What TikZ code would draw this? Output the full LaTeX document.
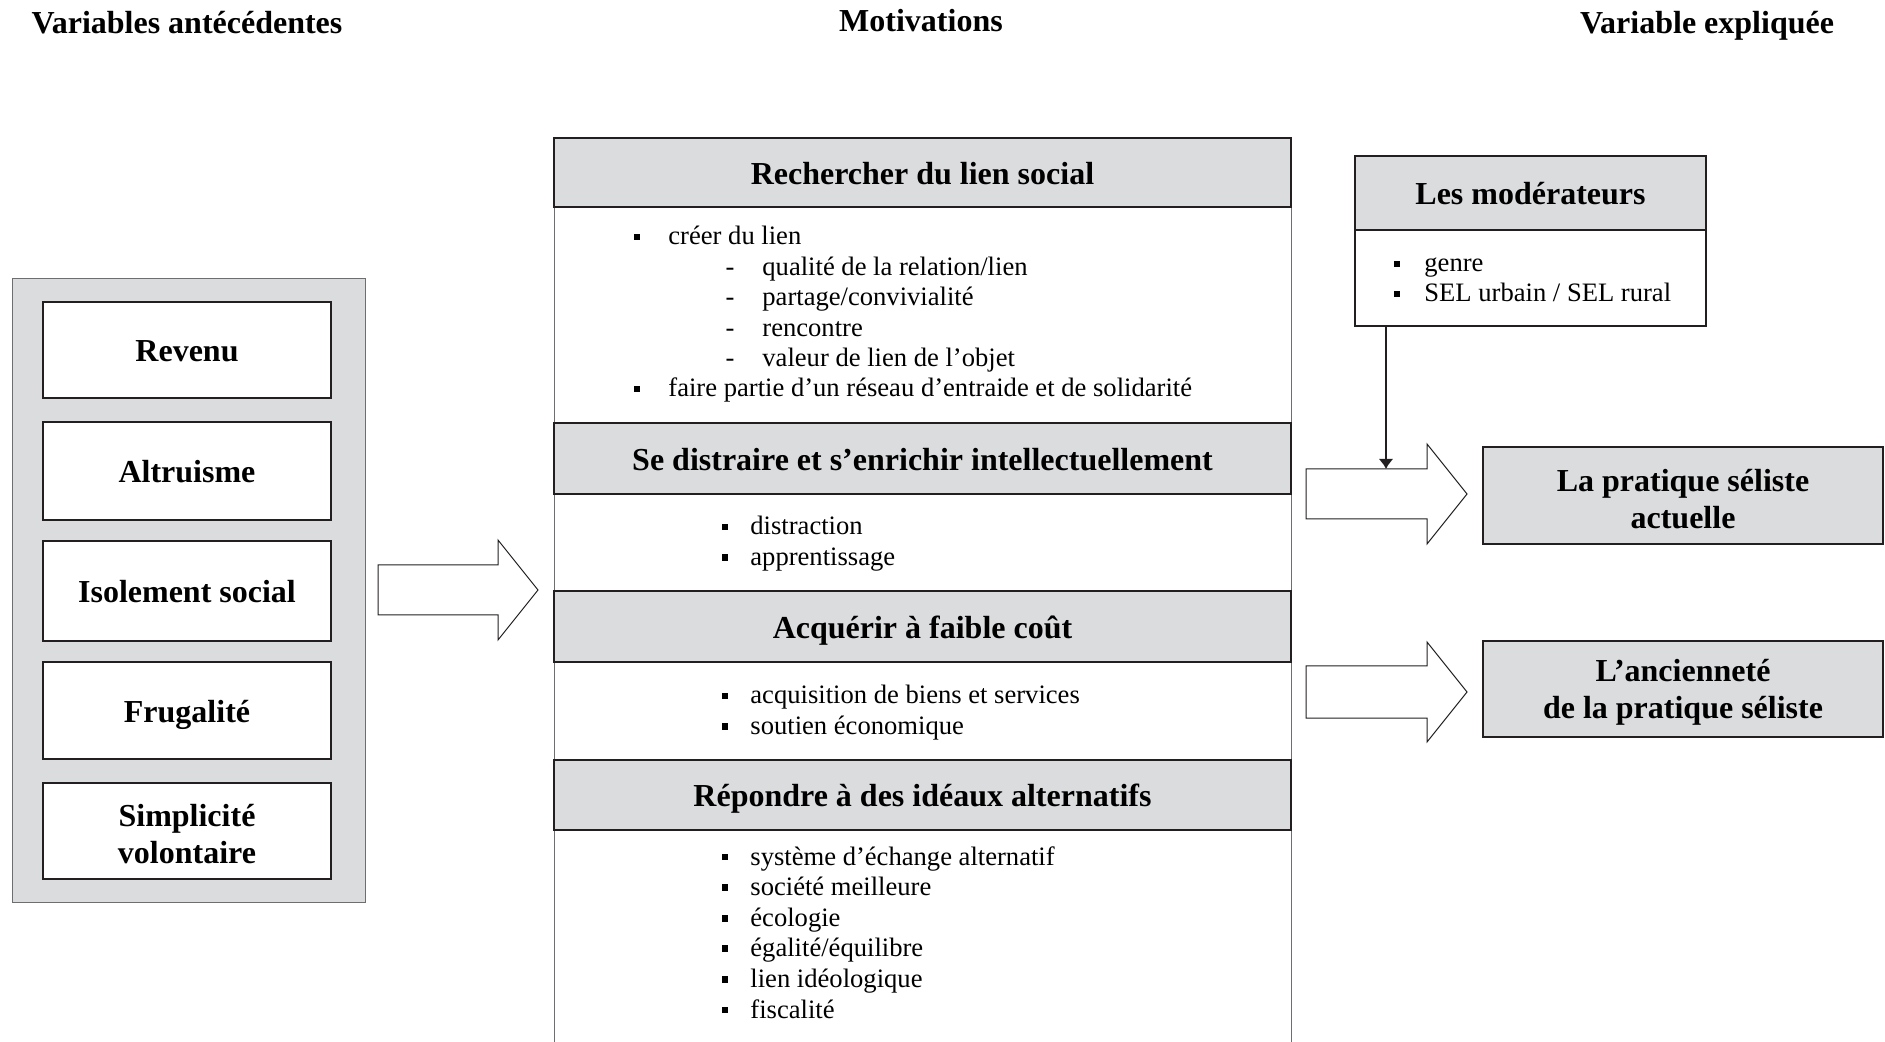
\documentclass[tikz,border=0pt]{standalone}
\usepackage{fontspec}
\setmainfont{Liberation Serif}
\usetikzlibrary{positioning, arrows.meta}
\tikzstyle{diagram} = [x = 0.5pt, y = -0.5pt]
\definecolor{boxGray}{RGB}{219,220,222}
\definecolor{lineColor}{RGB}{35,31,32}
\definecolor{thinColor}{RGB}{110,110,112}
\tikzstyle{titleText} = [anchor=base, font=\fontsize{16}{19}\selectfont\bfseries]
\tikzstyle{boxText} = [midway, align=center, font=\fontsize{16}{18.5}\selectfont\bfseries, text height=11.6pt, text depth=0pt]
\tikzstyle{twoLineText} = [midway, align=center, font=\fontsize{16}{18.5}\selectfont\bfseries, yshift=-1.6pt]
\tikzstyle{itemText} = [anchor=base west, inner sep=0pt, font=\fontsize{13.3}{15.2}\selectfont]
\tikzstyle{thinFrame} = [draw=thinColor, line width=0.5pt]
\tikzstyle{frameStyle} = [draw=lineColor, line width=0.8pt]
\tikzstyle{grayBox} = [draw=lineColor, line width=1pt, fill=boxGray]
\tikzstyle{outerBox} = [thinFrame, fill=boxGray]
\tikzstyle{whiteBox} = [draw=lineColor, line width=1.1pt, fill=white]
\tikzstyle{bigArrow} = [draw=lineColor, line width=0.5pt, fill=white]
\tikzstyle{bulletMark} = [fill=black, inner sep=0pt, minimum size=3.4pt]
\tikzstyle{modArrow} = [draw=lineColor, line width=1.3pt, -{Latex[length=5pt, width=7.5pt]}]
\newcommand{\antecedentBox}[4]{\filldraw [whiteBox] (43, #2) rectangle (331, #3) node [boxText] (#1) {#4};}
\newcommand{\motivationHead}[4]{\filldraw [grayBox] (554, #2) rectangle (1291, #3) node [boxText] (#1) {#4};}
\newcommand{\blockArrow}[6]{\filldraw [bigArrow] (#1, #4 - #5) -- (#2, #4 - #5) -- (#2, #4 - #6) -- (#3, #4) -- (#2, #4 + #6) -- (#2, #4 + #5) -- (#1, #4 + #5) -- cycle;}

\begin{document}
\begin{tikzpicture}[diagram]
  \useasboundingbox (0,0) rectangle (1885,1042);

  % column titles
  \node [titleText] (antTitle) at (187,33.5) {Variables antécédentes};
  \node [titleText] (motTitle) at (921,31.5) {Motivations};
  \node [titleText] (expTitle) at (1707,33.5) {Variable expliquée};

  % antecedent variables
  \filldraw [outerBox] (12,279) rectangle (365,902);
  \antecedentBox{revenu}{302}{398}{Revenu}
  \antecedentBox{altruisme}{422}{520}{Altruisme}
  \antecedentBox{isolement}{541}{641}{Isolement social}
  \antecedentBox{frugalite}{662}{759}{Frugalité}
  \filldraw [whiteBox] (43,783) rectangle (331,879) node [twoLineText] (simplicite) {Simplicité\\volontaire};

  \blockArrow{378}{498}{538}{590}{25}{50}

  % motivations
  \draw [thinFrame] (554,207) -- (554,1042);
  \draw [thinFrame] (1291,207) -- (1291,1042);
  \motivationHead{lienHead}{138}{207}{Rechercher du lien social}
  \motivationHead{distraireHead}{423}{494}{Se distraire et s’enrichir intellectuellement}
  \motivationHead{acquerirHead}{591}{662}{Acquérir à faible coût}
  \motivationHead{idealHead}{760}{830}{Répondre à des idéaux alternatifs}

  \node [bulletMark] (lienBullet1) at (637,237) {};
  \node [itemText] (lienItem1) at (668,245) {créer du lien};
  \foreach \txt [count=\i] in {qualité de la relation/lien, partage/convivialité, rencontre, valeur de lien de l’objet} {
    \pgfmathsetmacro{\base}{245 + \i * 30.5}
    \node [itemText, anchor=base] (lienDash\i) at (730, \base) {-};
    \node [itemText] (lienSub\i) at (762, \base) {\txt};
  }
  \node [bulletMark] (lienBullet2) at (637,389) {};
  \node [itemText] (lienItem2) at (668,397) {faire partie d’un réseau d’entraide et de solidarité};

  \foreach \txt [count=\i] in {distraction, apprentissage} {
    \pgfmathsetmacro{\base}{535 + (\i - 1) * 30.6}
    \node [bulletMark] (distBullet\i) at (725, \base - 8) {};
    \node [itemText] (distItem\i) at (750, \base) {\txt};
  }
  \foreach \txt [count=\i] in {acquisition de biens et services, soutien économique} {
    \pgfmathsetmacro{\base}{704 + (\i - 1) * 30.6}
    \node [bulletMark] (acqBullet\i) at (725, \base - 8) {};
    \node [itemText] (acqItem\i) at (750, \base) {\txt};
  }
  \foreach \txt [count=\i] in {système d’échange alternatif, société meilleure, écologie, égalité/équilibre, lien idéologique, fiscalité} {
    \pgfmathsetmacro{\base}{865 + (\i - 1) * 30.6}
    \node [bulletMark] (idealBullet\i) at (725, \base - 8) {};
    \node [itemText] (idealItem\i) at (750, \base) {\txt};
  }

  % moderators
  \filldraw [grayBox] (1355,156) rectangle (1706,230) node [boxText] (modHead) {Les modérateurs};
  \draw [frameStyle] (1355,230) rectangle (1706,326);
  \foreach \txt [count=\i] in {genre, SEL urbain / SEL rural} {
    \pgfmathsetmacro{\base}{272 + (\i - 1) * 30}
    \node [bulletMark] (modBullet\i) at (1397, \base - 8) {};
    \node [itemText] (modItem\i) at (1424, \base) {\txt};
  }

  % explained variable
  \blockArrow{1306}{1427}{1467}{494}{25}{50}
  \blockArrow{1306}{1427}{1467}{692}{26}{50}
  \coordinate (modBottom) at (1386,326);
  \coordinate (arrowTop) at (1386,469);
  \draw [modArrow] (modBottom) -- (arrowTop);

  \filldraw [frameStyle, fill=boxGray] (1483,447) rectangle (1883,544) node [twoLineText] (pratique) {La pratique séliste\\actuelle};
  \filldraw [frameStyle, fill=boxGray] (1483,641) rectangle (1883,737) node [twoLineText] (anciennete) {L’ancienneté\\de la pratique séliste};
\end{tikzpicture}
\end{document}
